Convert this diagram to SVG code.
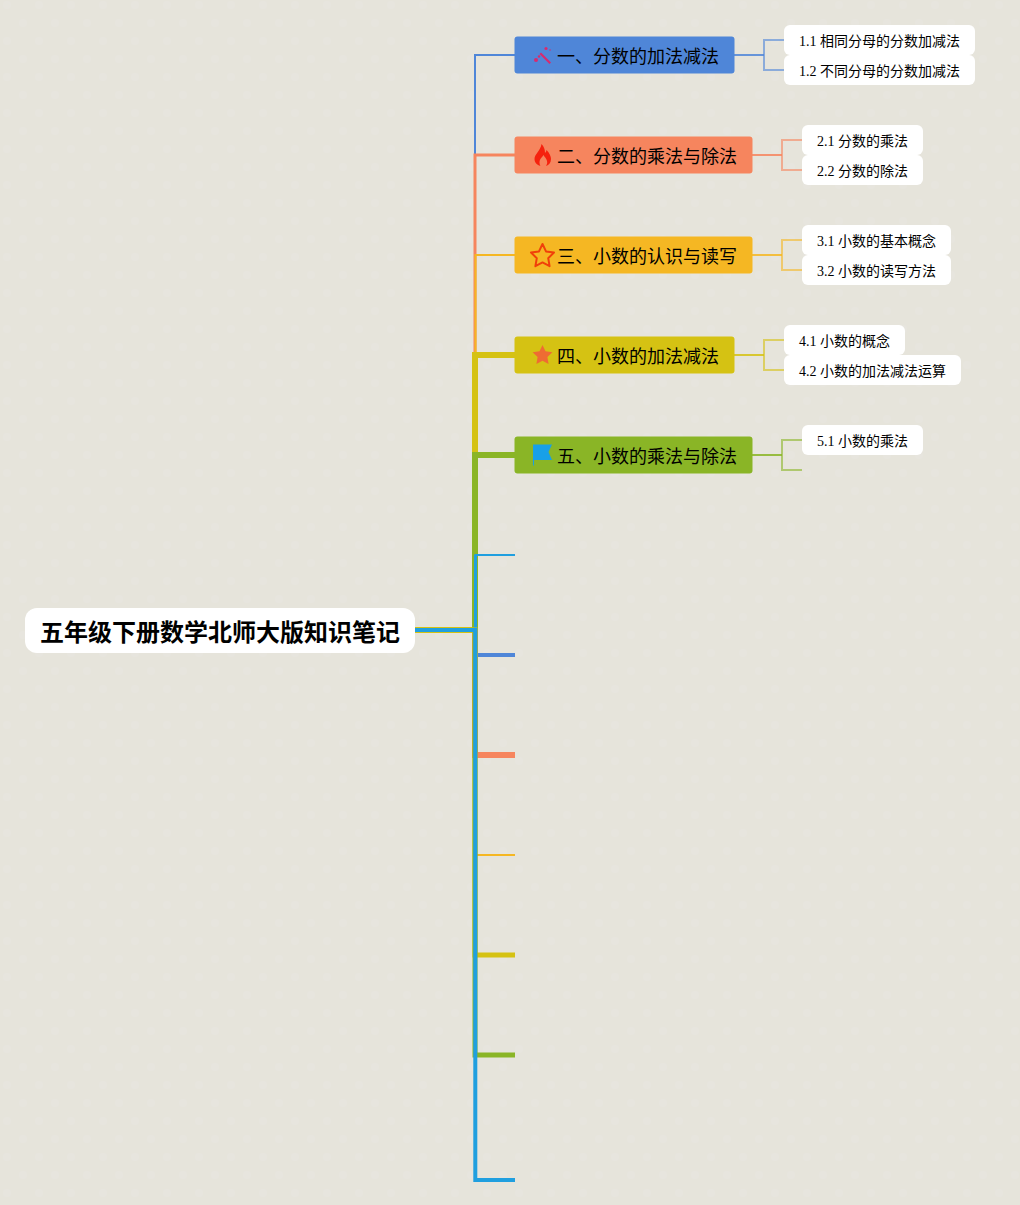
<svg xmlns="http://www.w3.org/2000/svg" width="1020" height="1205" viewBox="0 0 1020 1205">
<defs>
<style>
text{font-family:"Liberation Serif","Noto Sans CJK SC",sans-serif;fill:#000}
.t{font-size:18px}.s{font-size:14px}
.r{font-size:24px;font-weight:700;font-family:"Liberation Sans","Noto Sans CJK SC",sans-serif}
.w{fill:#fff}
path.c{fill:none;stroke-linejoin:miter}
.blue{stroke:#4f86d8}.org{stroke:#f6855e}.amb{stroke:#f5b723}.yel{stroke:#d5c213}.grn{stroke:#8ab526}.cy{stroke:#209fdf}
.sub{opacity:.6}.lead{opacity:.85}
</style>
<pattern id="bg" width="32" height="36" patternUnits="userSpaceOnUse">
<rect width="32" height="36" fill="#e6e4db"/>
<rect x="3" y="1" width="8" height="8" rx="3" fill="#e7e5de"/>
<rect x="19" y="19" width="8" height="8" rx="3" fill="#e7e5de"/>
</pattern>
</defs>
<rect width="1020" height="1205" fill="url(#bg)"/>
<g id="connectors">
<path class="c blue" stroke-width="2" d="M415 630H475V55H515"/>
<path class="c org" stroke-width="3" d="M415 630H475V155H515"/>
<path class="c amb" stroke-width="2" d="M415 630H475.500V255H515"/>
<path class="c yel" stroke-width="6" d="M415 630H475V355H515"/>
<path class="c grn" stroke-width="6" d="M475 630V455H515"/>
<path class="c cy" stroke-width="2" d="M415 630H475.500V555H515"/>
<path class="c cy" stroke-width="3" d="M475.500 555V630"/>
<path class="c blue" stroke-width="4" d="M415 630H475V655H515"/>
<path class="c org" stroke-width="6" d="M475 630V755H515"/>
<path class="c amb" stroke-width="2" d="M415 630H475V855H515"/>
<path class="c yel" stroke-width="5" d="M415 630H475V955H515"/>
<path class="c grn" stroke-width="5" d="M475 630V1055H515"/>
<path class="c cy" stroke-width="4" d="M415 630H475.300V1180H515"/>
<path class="c blue lead" stroke-width="2" d="M734 55H764"/>
<path class="c blue sub" stroke-width="2" d="M764 55V40H784M764 55V70H784"/>
<path class="c org lead" stroke-width="2" d="M752 155H782"/>
<path class="c org sub" stroke-width="2" d="M782 155V140H802M782 155V170H802"/>
<path class="c amb lead" stroke-width="2" d="M752 255H782"/>
<path class="c amb sub" stroke-width="2" d="M782 255V240H802M782 255V270H802"/>
<path class="c yel lead" stroke-width="2" d="M734 355H764"/>
<path class="c yel sub" stroke-width="2" d="M764 355V340H784M764 355V370H784"/>
<path class="c grn lead" stroke-width="2" d="M752 455H782"/>
<path class="c grn sub" stroke-width="2" d="M782 455V440H802M782 455V470H802"/>
</g>
<g id="root"><rect x="25" y="608" width="390" height="45" rx="12" class="w"/><text class="r" x="220" y="641" text-anchor="middle">五年级下册数学北师大版知识笔记</text></g>
<g id="n1"><rect x="514.500" y="36.500" width="220" height="37" rx="3" fill="#4f86d8"/>
<g fill="#d92a6e"><path d="M539.500 54l1.500-1.500 10 10-1.500 1.500z"/><circle cx="546" cy="48.500" r="1.600"/><circle cx="536" cy="60" r="2"/><circle cx="539" cy="56.500" r="1.200"/><circle cx="550" cy="50" r=".8"/></g>
<text class="t" x="557" y="63">一、分数的加法减法</text></g>
<g id="n2"><rect x="514.500" y="136.500" width="238" height="37" rx="3" fill="#f6855e"/>
<path fill="#f5220e" d="M541.500 144c2.500 3 3.500 5 3.500 9 1-1 1.500-2 1.500-3 3 3 4.500 6.500 4.500 9 0 3.500-2 6-5 7 1-1.500 1.500-3 1-5-.5-2.500-2.500-4-3.500-6-1.500 2.500-4 4-4 7 0 1.500.3 3 1 4-3.500-1-6-3.500-6-7 0-5 6-8 7-15z"/>
<text class="t" x="557" y="163">二、分数的乘法与除法</text></g>
<g id="n3"><rect x="514.500" y="236.500" width="238" height="37" rx="3" fill="#f5b723"/>
<path fill="none" stroke="#f0400a" stroke-width="2" stroke-linejoin="round" d="M542.500 244l3.500 7.400 8 1.100-5.800 5.700 1.400 8-7.100-3.800-7.100 3.800 1.400-8-5.800-5.700 8-1.100z"/>
<text class="t" x="557" y="263">三、小数的认识与读写</text></g>
<g id="n4"><rect x="514.500" y="336.500" width="220" height="37" rx="3" fill="#d5c213"/>
<path fill="#ee6c33" d="M542.500 345l3 6.300 6.900 1-5 4.800 1.200 6.900-6.100-3.300-6.100 3.300 1.200-6.900-5-4.800 6.900-1z"/>
<text class="t" x="557" y="363">四、小数的加法减法</text></g>
<g id="n5"><rect x="514.500" y="436.500" width="238" height="37" rx="3" fill="#8ab526"/>
<path fill="#18a0e8" d="M533 444.500h19l-3.500 7.500 3.500 8h-18v5.500h-1z"/>
<text class="t" x="557" y="463">五、小数的乘法与除法</text></g>
<g id="s11"><rect x="784" y="25" width="191" height="30" rx="6" class="w"/><text class="s" x="799" y="46">1.1 相同分母的分数加减法</text></g>
<g id="s12"><rect x="784" y="55" width="191" height="30" rx="6" class="w"/><text class="s" x="799" y="76">1.2 不同分母的分数加减法</text></g>
<g id="s21"><rect x="802" y="125" width="121" height="30" rx="6" class="w"/><text class="s" x="817" y="146">2.1 分数的乘法</text></g>
<g id="s22"><rect x="802" y="155" width="121" height="30" rx="6" class="w"/><text class="s" x="817" y="176">2.2 分数的除法</text></g>
<g id="s31"><rect x="802" y="225" width="149" height="30" rx="6" class="w"/><text class="s" x="817" y="246">3.1 小数的基本概念</text></g>
<g id="s32"><rect x="802" y="255" width="149" height="30" rx="6" class="w"/><text class="s" x="817" y="276">3.2 小数的读写方法</text></g>
<g id="s41"><rect x="784" y="325" width="121" height="30" rx="6" class="w"/><text class="s" x="799" y="346">4.1 小数的概念</text></g>
<g id="s42"><rect x="784" y="355" width="177" height="30" rx="6" class="w"/><text class="s" x="799" y="376">4.2 小数的加法减法运算</text></g>
<g id="s51"><rect x="802" y="425" width="121" height="30" rx="6" class="w"/><text class="s" x="817" y="446">5.1 小数的乘法</text></g>
</svg>
